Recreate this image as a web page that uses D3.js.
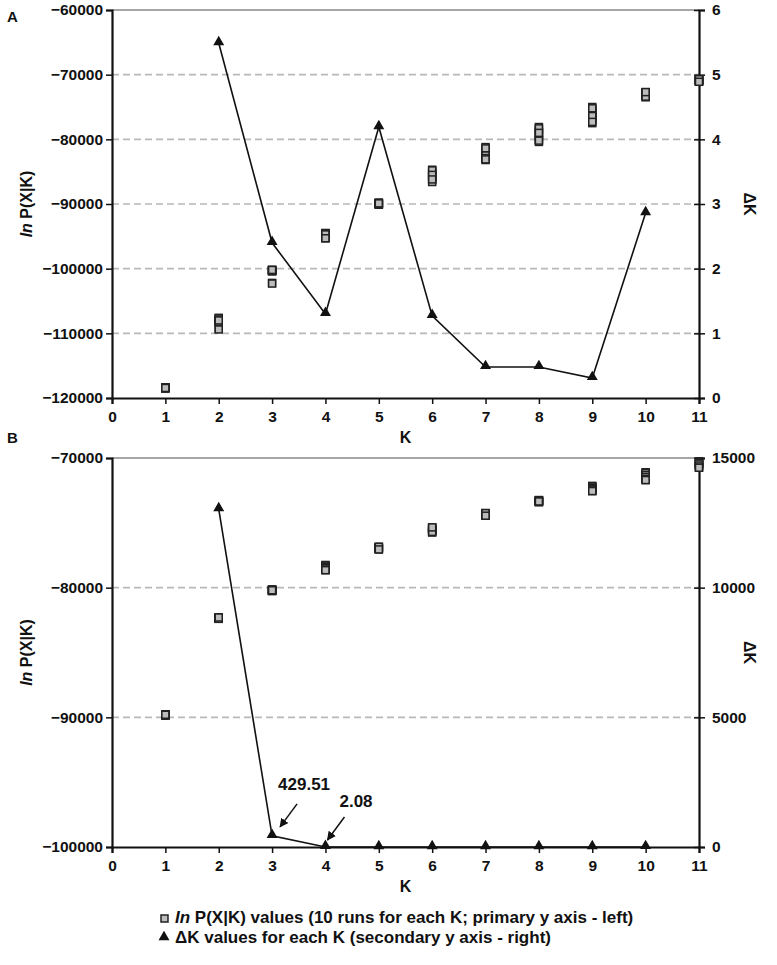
<!DOCTYPE html>
<html>
<head>
<meta charset="utf-8"/>
<script src="https://cdnjs.cloudflare.com/ajax/libs/d3/7.8.5/d3.min.js"></script>
<style>
  body { margin: 0; background: #fff; }
  text { font-family: "Liberation Sans", Arial, sans-serif; font-weight: bold; fill: #111; }
</style>
</head>
<body>
<script>
// K values and tick labels
const kTicks = [0, 1, 2, 3, 4, 5, 6, 7, 8, 9, 10, 11];
const kRuns = [1, 2, 3, 4, 5, 6, 7, 8, 9, 10, 11];
const kDelta = [2, 3, 4, 5, 6, 7, 8, 9, 10];

// panel A: ln P(X|K), 10 runs per K (many overlap)
const lnPA = [
  [-118400, -118400, -118450, -118450, -118500, -118400, -118450, -118500, -118400, -118450],
  [-107600, -107700, -107900, -108000, -108100, -108200, -108300, -109300, -109400, -108000],
  [-100200, -100300, -100400, -100300, -100200, -100400, -100300, -102200, -102300, -100200],
  [-94500, -94600, -94700, -95200, -95300, -94500, -94600, -95200, -94700, -95300],
  [-89800, -89900, -90000, -90100, -89900, -90000, -89800, -90100, -90000, -89900],
  [-84700, -85000, -85300, -85700, -86000, -86300, -86600, -84800, -85500, -86200],
  [-81200, -81500, -82300, -82700, -83000, -83200, -81400, -82500, -82900, -83100],
  [-78100, -78500, -78900, -79300, -79700, -80100, -80400, -78300, -79000, -80200],
  [-75000, -75400, -75800, -76200, -76600, -77000, -77500, -75200, -76400, -77300],
  [-72700, -72900, -73100, -73300, -73500, -72800, -73000, -73200, -73400, -72700],
  [-70700, -70800, -70900, -71000, -71100, -70800, -70900, -71000, -70700, -71100]
];
const deltaA = [5.49, 2.40, 1.30, 4.19, 1.27, 0.48, 0.48, 0.31, 2.86];
const leftTicksA = [-120000, -110000, -100000, -90000, -80000, -70000, -60000];
const rightTicksA = [0, 1, 2, 3, 4, 5, 6];

// panel B
const lnPB = [
  [-89800, -89800, -89850, -89800, -89850, -89800, -89850, -89800, -89850, -89800],
  [-82300, -82350, -82400, -82300, -82350, -82400, -82300, -82350, -82400, -82300],
  [-80150, -80200, -80250, -80150, -80200, -80250, -80150, -80200, -80250, -80200],
  [-78250, -78350, -78450, -78550, -78650, -78300, -78400, -78500, -78600, -78650],
  [-76850, -76900, -76950, -77000, -77050, -76900, -76950, -77000, -76850, -77050],
  [-75350, -75450, -75550, -75650, -75750, -75400, -75500, -75600, -75700, -75350],
  [-74250, -74300, -74350, -74400, -74450, -74300, -74350, -74400, -74250, -74450],
  [-73250, -73300, -73350, -73400, -73300, -73350, -73250, -73400, -73300, -73350],
  [-72150, -72250, -72350, -72450, -72550, -72200, -72300, -72400, -72500, -72550],
  [-71100, -71250, -71400, -71550, -71700, -71150, -71300, -71450, -71600, -71700],
  [-70250, -70350, -70450, -70600, -70750, -70300, -70400, -70500, -70650, -70750]
];
const deltaB = [13030, 429.51, 2.08, 1.2, 0.9, 0.6, 0.5, 0.7, 1.5];
const leftTicksB = [-100000, -90000, -80000, -70000];
const rightTicksB = [0, 5000, 10000, 15000];
const notesB = [
  { k: 3, v: 429.51, label: "429.51", tx: 6, ty: -46, ax: 25, ay: -32, bx: 8, by: -9 },
  { k: 4, v: 2.08, label: "2.08", tx: 14, ty: -40, ax: 19, ay: -30, bx: 2, by: -7 }
];

const W = 777, H = 965;
const svg = d3.select('body').append('svg')
  .attr('width', W).attr('height', H);

const x = d3.scaleLinear().domain([0, 11]).range([112, 699]);

const defs = svg.append('defs');
defs.append('marker')
  .attr('id', 'arr').attr('viewBox', '0 0 10 10')
  .attr('refX', 9).attr('refY', 5)
  .attr('markerWidth', 9).attr('markerHeight', 9)
  .attr('markerUnits', 'userSpaceOnUse')
  .attr('orient', 'auto')
  .append('path').attr('d', 'M0,0 L10,5 L0,10 z').attr('fill', '#111');

const tri = d3.symbol().type(d3.symbolTriangle).size(52);

function panel(p) {
  const yL = d3.scaleLinear().domain(p.leftDomain).range([p.bottom, p.top]);
  const yR = d3.scaleLinear().domain(p.rightDomain).range([p.bottom, p.top]);
  const g = svg.append('g');

  // dashed grid at interior ticks
  g.selectAll('line.grid')
    .data(p.leftTicks.slice(1, -1))
    .enter().append('line')
    .attr('x1', x(0)).attr('x2', x(11))
    .attr('y1', d => yL(d)).attr('y2', d => yL(d))
    .attr('stroke', '#b8b8b8').attr('stroke-width', 1.6)
    .attr('stroke-dasharray', '7,4');

  // top border
  g.append('line')
    .attr('x1', x(0)).attr('x2', x(11))
    .attr('y1', p.top).attr('y2', p.top)
    .attr('stroke', '#888').attr('stroke-width', 1.5);

  // axes
  const axL = g.append('g').attr('transform', `translate(${x(0)},0)`)
    .call(d3.axisLeft(yL).tickValues(p.leftTicks).tickFormat(d3.format('d')).tickSize(6).tickPadding(3));
  const axR = g.append('g').attr('transform', `translate(${x(11)},0)`)
    .call(d3.axisRight(yR).tickValues(p.rightTicks).tickFormat(d3.format('d')).tickSize(6).tickPadding(7));
  axR.selectAll('.tick line').attr('x1', -5);
  const axB = g.append('g').attr('transform', `translate(0,${p.bottom})`)
    .call(d3.axisBottom(x).tickValues(kTicks).tickFormat(d3.format('d')).tickSize(6).tickPadding(7));

  [axL, axR, axB].forEach(a => {
    a.select('.domain').attr('stroke', '#111').attr('stroke-width', 2.2);
    a.selectAll('.tick line').attr('stroke', '#111').attr('stroke-width', 1.5);
    a.selectAll('.tick text').attr('font-size', 15.5).attr('font-family', '"Liberation Sans", Arial, sans-serif')
      .attr('font-weight', 'bold').attr('fill', '#111');
  });

  // axis titles
  g.append('text').attr('x', x(5.5)).attr('y', p.bottom + 45)
    .attr('text-anchor', 'middle').attr('font-size', 16).text('K');

  const lt = g.append('text')
    .attr('transform', `translate(32,${(p.top + p.bottom) / 2}) rotate(-90)`)
    .attr('text-anchor', 'middle').attr('font-size', 16);
  lt.append('tspan').attr('font-style', 'italic').text('ln');
  lt.append('tspan').text(' P(X|K)');

  g.append('text')
    .attr('transform', `translate(744,${(p.top + p.bottom) / 2}) rotate(90)`)
    .attr('text-anchor', 'middle').attr('font-size', 16).text('ΔK');

  // panel letter
  g.append('text').attr('x', 7).attr('y', p.letterY)
    .attr('font-size', 15).text(p.letter);

  // ln P points
  const pts = [];
  p.lnP.forEach((runs, i) => runs.forEach(v => pts.push({ k: kRuns[i], v })));
  g.selectAll('rect.run').data(pts).enter().append('rect')
    .attr('x', d => x(d.k) - 3.5).attr('y', d => yL(d.v) - 3.5)
    .attr('width', 7).attr('height', 7)
    .attr('fill', '#bdbdbd').attr('stroke', '#222').attr('stroke-width', 1.5);

  // delta K line + triangles
  const dk = p.delta.map((v, i) => ({ k: kDelta[i], v }));
  g.append('path').datum(dk)
    .attr('d', d3.line().x(d => x(d.k)).y(d => yR(d.v)))
    .attr('fill', 'none').attr('stroke', '#111').attr('stroke-width', 1.6);
  g.selectAll('path.tri').data(dk).enter().append('path')
    .attr('d', tri)
    .attr('transform', d => `translate(${x(d.k)},${yR(d.v) - 1})`)
    .attr('fill', '#111');

  return { yL, yR, g };
}

panel({ letter: 'A', letterY: 22, top: 10, bottom: 398, leftDomain: [-120000, -60000], rightDomain: [0, 6],
  leftTicks: leftTicksA, rightTicks: rightTicksA, lnP: lnPA, delta: deltaA });

const pb = panel({ letter: 'B', letterY: 443, top: 458, bottom: 847, leftDomain: [-100000, -70000], rightDomain: [0, 15000],
  leftTicks: leftTicksB, rightTicks: rightTicksB, lnP: lnPB, delta: deltaB });

// annotations on panel B
notesB.forEach(n => {
  const px = x(n.k), py = pb.yR(n.v);
  pb.g.append('line')
    .attr('x1', px + n.ax).attr('y1', py + n.ay)
    .attr('x2', px + n.bx).attr('y2', py + n.by)
    .attr('stroke', '#111').attr('stroke-width', 1.5)
    .attr('marker-end', 'url(#arr)');
  pb.g.append('text')
    .attr('x', px + n.tx).attr('y', py + n.ty)
    .attr('font-size', 17).text(n.label);
});

// legend
const leg = svg.append('g');
leg.append('rect').attr('x', 161).attr('y', 915).attr('width', 7).attr('height', 7)
  .attr('fill', '#bdbdbd').attr('stroke', '#222').attr('stroke-width', 1.5);
const l1 = leg.append('text').attr('x', 175).attr('y', 923).attr('font-size', 17);
l1.append('tspan').attr('font-style', 'italic').text('In');
l1.append('tspan').text(' P(X|K) values (10 runs for each K; primary y axis - left)');
leg.append('path').attr('d', tri).attr('transform', 'translate(164,937)').attr('fill', '#111');
leg.append('text').attr('x', 175).attr('y', 943).attr('font-size', 17)
  .text('ΔK values for each K (secondary y axis - right)');
</script>
</body>
</html>
